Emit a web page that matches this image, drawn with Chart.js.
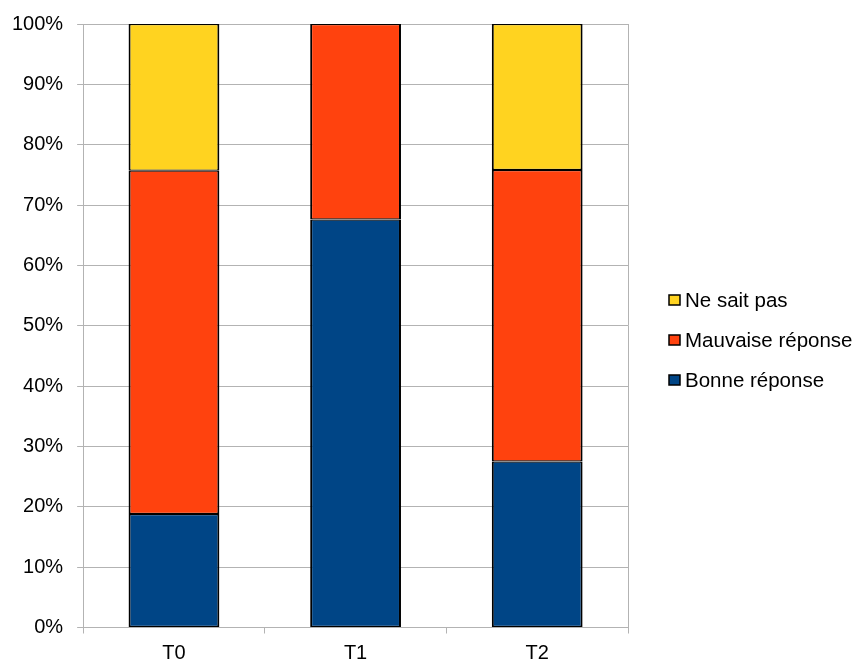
<!DOCTYPE html>
<html>
<head>
<meta charset="utf-8">
<script src="https://cdn.jsdelivr.net/npm/chart.js@4"></script>
<style>
  html, body { margin: 0; padding: 0; background: #fff; }
  #wrap { width: 861px; height: 662px; }
</style>
</head>
<body>
<div id="wrap"><canvas id="mainChart"></canvas></div>
<script>
// Données (en %)
const categories = ['T0', 'T1', 'T2'];
const bonneReponse = [18.8, 67.6, 27.5];
const mauvaiseReponse = [56.9, 32.4, 48.3];
const neSaitPas = [24.3, 0, 24.2];
const yTicks = [0, 10, 20, 30, 40, 50, 60, 70, 80, 90, 100];

const gridColor = '#b3b3b3';
const fontFamily = '"Liberation Sans", Arial, sans-serif';
const fontSpec = { family: fontFamily, size: 20, lineHeight: 1 };
const barBorder = { top: 1.2, bottom: 1.2, left: 2, right: 2 };

// Légende dessinée à la main (à droite, ordre inversé) + bord droit du cadre
const legendeDroite = {
    id: 'legendeDroite',
    beforeDatasetsDraw(chart) {
        const { ctx, chartArea } = chart;
        ctx.save();
        ctx.strokeStyle = gridColor;
        ctx.lineWidth = 1;
        ctx.beginPath();
        ctx.moveTo(Math.round(chartArea.right) + 0.5, chartArea.top);
        ctx.lineTo(Math.round(chartArea.right) + 0.5, chartArea.bottom);
        ctx.stroke();
        ctx.restore();
    },
    afterDraw(chart) {
        const { ctx, chartArea } = chart;
        const items = chart.data.datasets.slice().reverse();
        const x0 = chartArea.right + 41;
        const yMid = (chartArea.top + chartArea.bottom) / 2 + 14;
        ctx.save();
        ctx.font = '20.5px ' + fontFamily;
        ctx.textBaseline = 'middle';
        items.forEach((ds, i) => {
            const y = Math.round(yMid + (i - 1) * 40);
            ctx.fillStyle = ds.backgroundColor;
            ctx.fillRect(x0, y - 5, 11, 10);
            ctx.strokeStyle = '#000';
            ctx.lineWidth = 1.5;
            ctx.strokeRect(x0, y - 5, 11, 10);
            ctx.fillStyle = '#000';
            ctx.fillText(ds.label, x0 + 16, y + 1);
        });
        ctx.restore();
    }
};

const ctx = document.getElementById('mainChart').getContext('2d');
new Chart(ctx, {
    type: 'bar',
    data: {
        labels: categories,
        datasets: [
            { label: 'Bonne réponse', data: bonneReponse, backgroundColor: '#004586', borderColor: '#000', borderWidth: barBorder },
            { label: 'Mauvaise réponse', data: mauvaiseReponse, backgroundColor: '#ff420e', borderColor: '#000', borderWidth: barBorder },
            { label: 'Ne sait pas', data: neSaitPas, backgroundColor: '#ffd320', borderColor: '#000', borderWidth: barBorder }
        ]
    },
    options: {
        responsive: true,
        maintainAspectRatio: false,
        animation: false,
        layout: { padding: { top: 13, left: -2, right: 233, bottom: -11.5 } },
        datasets: { bar: { categoryPercentage: 1, barPercentage: 0.5, borderSkipped: false } },
        plugins: {
            tooltip: { enabled: false },
            legend: { display: false }
        },
        scales: {
            x: {
                stacked: true,
                grid: { offset: true, drawOnChartArea: false, tickLength: 6, color: gridColor },
                border: { color: gridColor },
                ticks: { color: '#000', font: fontSpec, padding: 10 }
            },
            y: {
                stacked: true,
                min: 0,
                max: 100,
                afterBuildTicks: (scale) => { scale.ticks = yTicks.map(v => ({ value: v })); },
                grid: { color: gridColor, tickLength: 6 },
                border: { color: gridColor },
                ticks: { color: '#000', font: fontSpec, padding: 14, callback: (v) => v + '%' }
            }
        }
    },
    plugins: [legendeDroite]
});
</script>
</body>
</html>
